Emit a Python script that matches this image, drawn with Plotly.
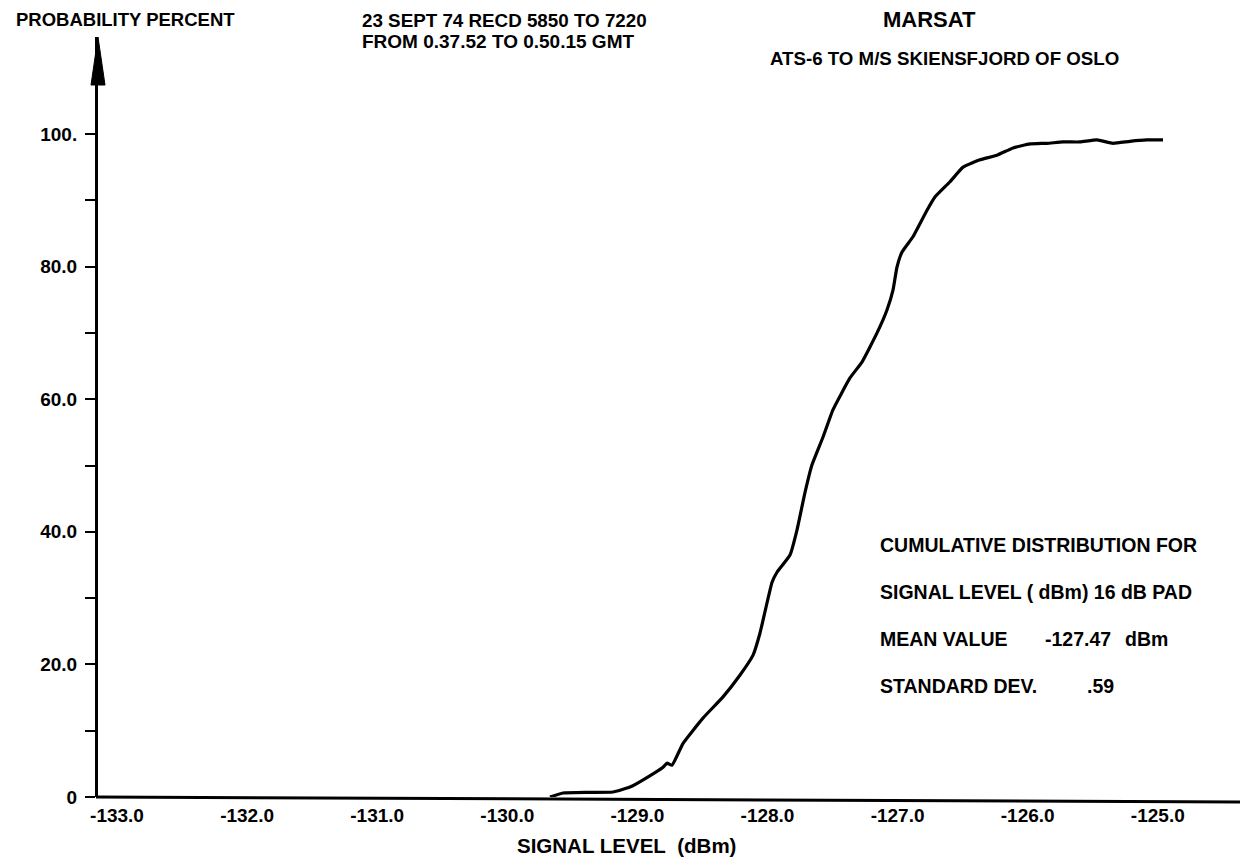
import plotly.graph_objects as go

# ---- data ----
signal_dbm = [-129.672, -129.572, -129.364, -129.188, -129.057, -128.93, -128.803, -128.772,
              -128.734, -128.649, -128.496, -128.342, -128.211, -128.111, -128.058, -127.965,
              -127.927, -127.827, -127.773, -127.712, -127.658, -127.573, -127.497, -127.366,
              -127.274, -127.158, -127.081, -127.035, -127.005, -126.966, -126.882, -126.774,
              -126.713, -126.597, -126.497, -126.367, -126.236, -126.113, -125.982, -125.852,
              -125.729, -125.598, -125.467, -125.344, -125.214, -125.083, -124.960]
probability_pct = [0.0, 0.6, 0.7, 0.75, 1.5, 2.9, 4.5, 5.1,
                   4.8, 8.1, 11.9, 15.1, 18.4, 21.4, 24.7, 32.4,
                   33.9, 36.5, 40.3, 45.9, 50.1, 54.3, 58.4, 63.2,
                   65.6, 70.0, 73.5, 76.5, 79.9, 82.2, 84.5, 88.5,
                   90.5, 92.8, 95.0, 96.1, 96.8, 97.9, 98.5, 98.6,
                   98.8, 98.8, 99.1, 98.6, 98.9, 99.1, 99.1]

x_tick_vals = [-133.0, -132.0, -131.0, -130.0, -129.0, -128.0, -127.0, -126.0, -125.0]
x_tick_text = ["-133.0", "-132.0", "-131.0", "-130.0", "-129.0", "-128.0", "-127.0", "-126.0", "-125.0"]
y_tick_vals = [0, 10, 20, 30, 40, 50, 60, 70, 80, 90, 100]
y_tick_text = ["0", "", "20.0", "", "40.0", "", "60.0", "", "80.0", "", "100."]

# ---- layout geometry (pixels) ----
W, H = 1240, 863
L, R, T, B = 98, 0, 37, 66
PW, PH = W - L - R, H - T - B

def px(x):
    return (x - L) / PW

def py(y):
    return (H - B - y) / PH

FONT = "Liberation Sans, Arial, Helvetica, sans-serif"

fig = go.Figure()
fig.add_trace(go.Scatter(
    x=signal_dbm, y=probability_pct, mode="lines",
    line=dict(color="black", width=3.2, shape="spline", smoothing=0.4),
    hoverinfo="skip", showlegend=False, cliponaxis=False,
))

fig.update_layout(
    width=W, height=H,
    margin=dict(l=L, r=R, t=T, b=B, pad=0),
    paper_bgcolor="white", plot_bgcolor="white",
    font=dict(family=FONT, color="black", size=19),
    xaxis=dict(
        range=[-133 - (117 - L) / 130.1, -133 + (W - 117) / 130.1],
        tickvals=x_tick_vals, ticktext=x_tick_text,
        showgrid=False, zeroline=False, showline=False,
        ticks="", ticklabelstandoff=5,
        tickfont=dict(family=FONT, size=19, weight="bold", color="black"),
    ),
    yaxis=dict(
        range=[0, PH / 6.63],
        tickvals=y_tick_vals, ticktext=y_tick_text,
        showgrid=False, zeroline=False, showline=True, linecolor="black", linewidth=3,
        ticks="outside", ticklen=10, tickwidth=2, tickcolor="black",
        ticklabelstandoff=4,
        tickfont=dict(family=FONT, size=19, weight="bold", color="black"),
    ),
)

# baseline (x axis), slightly tilted as in the scanned original
fig.add_shape(type="line", xref="paper", yref="paper",
              x0=px(96), y0=py(797), x1=1, y1=py(802),
              line=dict(color="black", width=3))

# arrow head on top of y axis
hw = 7 / PW
base = py(85)
fig.add_shape(type="path", xref="paper", yref="paper",
              path=f"M {-hw},{base} L 0,1 L {hw},{base} Z",
              fillcolor="black", line=dict(color="black", width=1))

def label(text, x, y, size=19, anchor="left"):
    fig.add_annotation(text=text, xref="paper", yref="paper", x=px(x), y=py(y),
                       xanchor=anchor, yanchor="middle", showarrow=False,
                       font=dict(family=FONT, size=size, weight="bold", color="black"))

label("PROBABILITY PERCENT", 14, 19, size=18.5)
label("23 SEPT 74 RECD 5850 TO 7220", 360, 21, size=18.8)
label("FROM 0.37.52 TO 0.50.15 GMT", 360, 42, size=19)
label("MARSAT", 929, 19, size=22, anchor="center")
label("ATS-6 TO M/S SKIENSFJORD OF OSLO", 944, 58, size=18.7, anchor="center")

label("CUMULATIVE DISTRIBUTION FOR", 878, 545, size=19.5)
label("SIGNAL LEVEL ( dBm) 16 dB PAD", 878, 592, size=19.5)
label("MEAN VALUE", 878, 639, size=19.5)
label("-127.47", 1043, 639, size=19.5)
label("dBm", 1123, 639, size=19.5)
label("STANDARD DEV.", 878, 686, size=19.5)
label(".59", 1085, 686, size=19.5)

label("SIGNAL LEVEL\u00a0\u00a0(dBm)", 626, 846, size=20.5, anchor="center")

fig.write_html("out.html")
